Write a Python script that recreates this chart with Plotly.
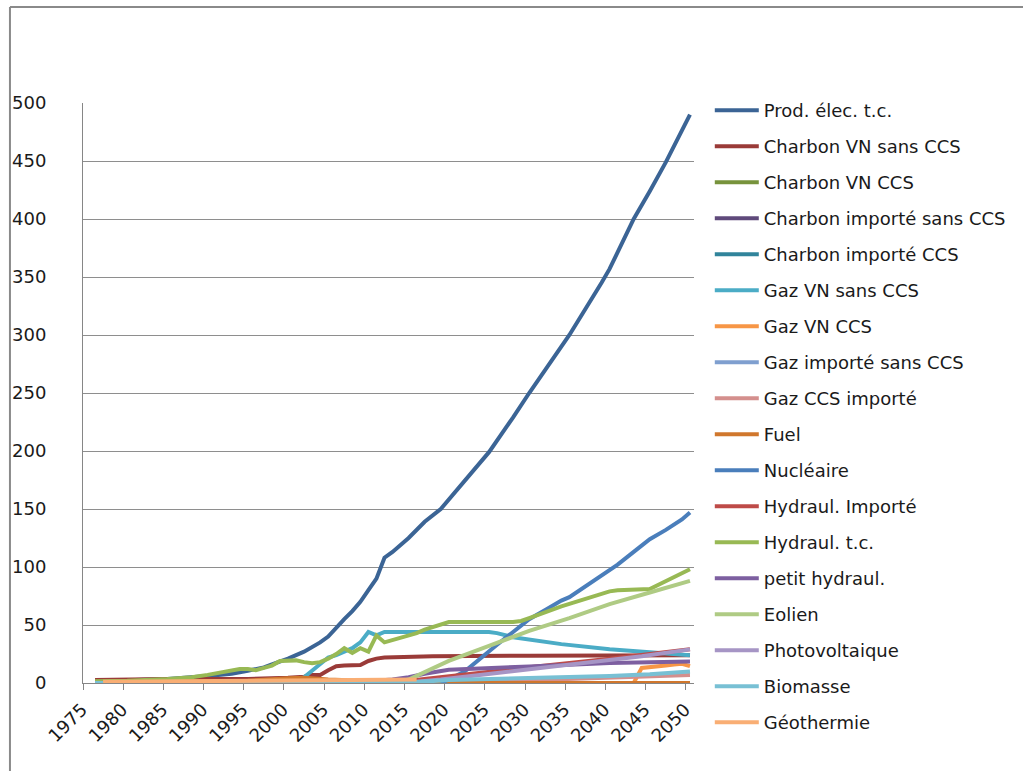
import plotly.graph_objects as go

# ---------------- data ----------------
tick_years = list(range(1975, 2051, 5))

prod_x = [1976, 1980, 1985, 1990, 1993, 1995, 1997, 1998, 2000, 2002, 2004, 2005, 2006, 2007, 2008, 2009, 2010, 2011, 2012, 2013, 2015, 2017, 2019, 2020, 2022, 2025, 2028, 2030, 2035, 2037, 2039, 2040, 2043, 2045, 2047, 2050]
prod_y = [1.5, 2.5, 3.5, 6, 8, 10.5, 13.5, 16, 21, 27, 35, 40, 48, 55, 62, 70, 80, 90, 108, 113, 125, 139, 150, 158, 174, 199, 229, 250, 300, 322, 345, 357, 400, 424, 449, 490]

charbon_vn_x = [1976, 1979, 1985, 1990, 1995, 2000, 2002, 2003, 2004, 2005, 2006, 2007, 2008, 2009, 2010, 2011, 2012, 2014, 2018, 2030, 2050]
charbon_vn_y = [2.5, 3, 3.5, 3.5, 3.5, 4.5, 5.5, 7, 7, 11, 14.5, 15, 15, 15.5, 19, 21, 22, 22.5, 23, 23.5, 24]

charbon_vn_ccs_x = [1976, 2050]
charbon_vn_ccs_y = [0, 0]

charbon_imp_x = [1976, 2050]
charbon_imp_y = [0, 0]

charbon_imp_ccs_x = [1976, 2050]
charbon_imp_ccs_y = [0, 0]

gaz_vn_x = [1976, 2001, 2002, 2003, 2004, 2005, 2006, 2007, 2008, 2009, 2010, 2011, 2012, 2025, 2026, 2028, 2034, 2040, 2045, 2050]
gaz_vn_y = [0, 0, 5, 11, 17, 22, 24, 27, 30, 35, 44, 41, 44, 44, 43, 39.5, 33.5, 29, 26.5, 24]

gaz_vn_ccs_x = [1976, 2043, 2044, 2045, 2046, 2047, 2048, 2049, 2050]
gaz_vn_ccs_y = [0, 0, 13, 13.5, 14, 15, 16, 16.5, 14.5]

gaz_imp_x = [1976, 2050]
gaz_imp_y = [0, 0]

gaz_ccs_imp_x = [1976, 2020, 2031, 2039, 2050]
gaz_ccs_imp_y = [0, 0.5, 2.5, 4.5, 7]

fuel_x = [1976, 1985, 1995, 2000, 2002, 2005, 2010, 2015, 2018, 2050]
fuel_y = [1, 1.5, 2, 4, 4.5, 3, 1.5, 0.5, 0, 0]

nucl_x = [2019, 2020, 2022, 2024, 2026, 2028, 2029, 2030, 2032, 2034, 2035, 2037, 2039, 2041, 2043, 2045, 2047, 2049, 2050]
nucl_y = [0, 3, 10, 22, 33, 44, 50, 55, 63, 71, 74, 83, 92, 102, 113, 124, 132, 141, 147]

hydro_imp_x = [1976, 2012, 2015, 2020, 2030, 2040, 2044, 2050]
hydro_imp_y = [0, 0, 2, 6, 13.5, 21, 24, 29]

hydro_x = [1976, 1980, 1985, 1988, 1990, 1993, 1994, 1995, 1996, 1997, 1998, 1999, 2000, 2001, 2002, 2003, 2004, 2005, 2006, 2007, 2008, 2009, 2010, 2011, 2012, 2013, 2014, 2015, 2016, 2017, 2018, 2019, 2020, 2028, 2029, 2030, 2034, 2040, 2041, 2045, 2050]
hydro_y = [1.5, 2, 3.5, 5, 7, 11, 12, 12, 11, 13, 15, 19, 19.5, 19.5, 18, 17, 18, 21, 25, 30, 26, 30, 27, 41, 35, 37, 39, 41, 43, 46, 48, 50, 52.5, 52.5, 53.5, 56, 66, 79, 80, 81, 98]

petit_hydro_x = [1976, 2010, 2013, 2015, 2017, 2020, 2030, 2040, 2050]
petit_hydro_y = [0, 1.5, 3, 5, 8, 11.5, 14.3, 17.2, 18.6]

eolien_x = [1976, 2013, 2015, 2020, 2025, 2030, 2035, 2040, 2045, 2050]
eolien_y = [0, 0, 3, 19, 32, 45, 56, 68, 78, 88]

pv_x = [1976, 2012, 2015, 2019, 2031, 2044, 2050]
pv_y = [0, 0, 0.5, 3, 13, 23, 29]

biomasse_x = [1976, 2012, 2015, 2020, 2030, 2040, 2045, 2050]
biomasse_y = [0, 0, 0.5, 2.5, 4, 6, 7.5, 10]

geo_x = [1977, 1985, 1995, 2000, 2005, 2010, 2016]
geo_y = [1, 1.5, 2, 2.5, 2.5, 3, 3]

names = ["Prod. élec. t.c.", "Charbon VN sans CCS", "Charbon VN CCS",
         "Charbon importé sans CCS", "Charbon importé CCS", "Gaz VN sans CCS",
         "Gaz VN CCS", "Gaz importé sans CCS", "Gaz CCS importé", "Fuel",
         "Nucléaire", "Hydraul. Importé", "Hydraul. t.c.", "petit hydraul.",
         "Eolien", "Photovoltaique", "Biomasse", "Géothermie"]

series_x = [prod_x, charbon_vn_x, charbon_vn_ccs_x, charbon_imp_x, charbon_imp_ccs_x,
            gaz_vn_x, gaz_vn_ccs_x, gaz_imp_x, gaz_ccs_imp_x, fuel_x, nucl_x,
            hydro_imp_x, hydro_x, petit_hydro_x, eolien_x, pv_x, biomasse_x, geo_x]
series_y = [prod_y, charbon_vn_y, charbon_vn_ccs_y, charbon_imp_y, charbon_imp_ccs_y,
            gaz_vn_y, gaz_vn_ccs_y, gaz_imp_y, gaz_ccs_imp_y, fuel_y, nucl_y,
            hydro_imp_y, hydro_y, petit_hydro_y, eolien_y, pv_y, biomasse_y, geo_y]

colors = ["#3B6495", "#9A3B38", "#77933C", "#5F4A7B", "#31849B", "#4BACC6",
          "#F79646", "#7F9FCF", "#D48F8D", "#D0772D", "#4A7EBB", "#BE4B48",
          "#98B954", "#7D5FA0", "#AFCB84", "#A695C5", "#78C0D4", "#F9AE74"]

# ---------------- figure ----------------
FONT = "DejaVu Sans"
W, H = 1023, 771
L, R, T, B = 79, 698, 103, 683
fig = go.Figure()
for i, (nm, xs, ys, c) in enumerate(zip(names, series_x, series_y, colors)):
    fig.add_trace(go.Scatter(x=xs, y=ys, mode="lines", name=nm, legendgroup=f"g{i}",
                             line=dict(color=c, width=4)))

pw, ph = R - L, B - T

def px_x(p):
    return (p - L) / pw

def px_y(p):
    return (B - p) / ph

fig.update_layout(
    width=W, height=H,
    margin=dict(l=L, r=W - R, t=T, b=H - B, pad=0),
    paper_bgcolor="white", plot_bgcolor="white",
    font=dict(family=FONT, size=18, color="#1a1a1a"),
    showlegend=True,
    legend=dict(x=px_x(714), y=px_y(92), xanchor="left", yanchor="top",
                font=dict(family=FONT, size=18, color="#1a1a1a"),
                tracegroupgap=9.6, itemwidth=44, maxheight=700,
                bgcolor="rgba(0,0,0,0)"),
    xaxis=dict(range=[1974.5, 2050.5], tickmode="array", tickvals=tick_years,
               ticktext=[str(y) for y in tick_years], tickangle=-45, ticks="",
               showgrid=False, zeroline=False, showline=True, linecolor="#868686",
               linewidth=1, ticklabelstandoff=8, ticklabelshift=-5,
               minor=dict(tickmode="array", tickvals=[y - 0.5 for y in tick_years],
                          ticks="outside", ticklen=6, tickcolor="#868686", showgrid=False),
               tickfont=dict(size=18)),
    yaxis=dict(range=[0, 500], dtick=50, tick0=0, showgrid=True, gridcolor="#8E8E8E",
               gridwidth=1, zeroline=False, showline=True, linecolor="#868686",
               linewidth=1, ticks="", ticklabelstandoff=32, tickfont=dict(size=18)),
    shapes=[
        dict(type="line", xref="paper", yref="paper", x0=px_x(5), x1=px_x(5),
             y0=px_y(7), y1=px_y(800), line=dict(color="#8A8A8A", width=2)),
        dict(type="line", xref="paper", yref="paper", x0=px_x(5), x1=px_x(1100),
             y0=px_y(7), y1=px_y(7), line=dict(color="#8A8A8A", width=2)),
    ],
)

fig.write_html("out.html", config={"displayModeBar": False},
               post_script="document.body.style.margin='0px';")
